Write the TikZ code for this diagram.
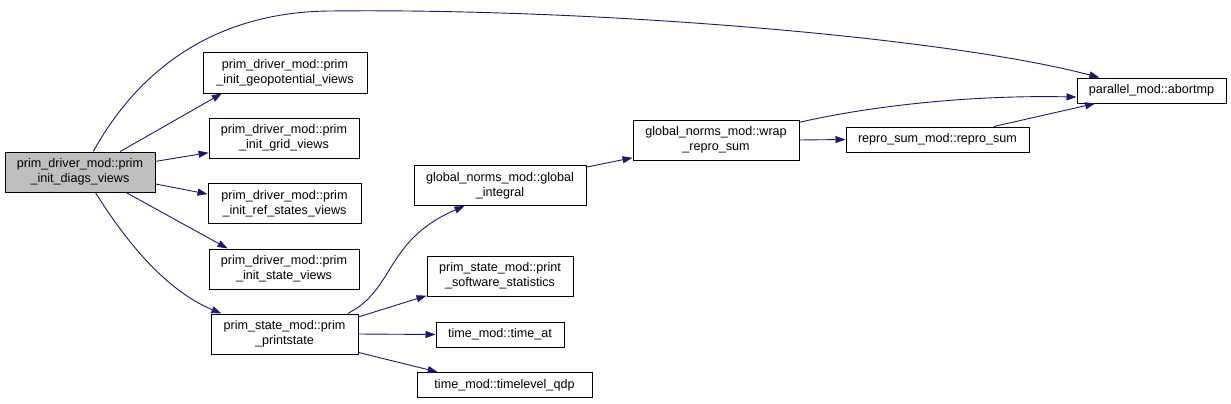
\documentclass[tikz,border=0pt]{standalone}
\usepackage{fontspec}
\setmainfont{Liberation Sans}
\usepackage{tikz}
\usetikzlibrary{arrows.meta}
\definecolor{edgeblue}{RGB}{25,25,112}
\definecolor{rootgray}{RGB}{191,191,191}

\begin{document}
\begin{tikzpicture}[
  x=1pt, y=-1pt,
  fn/.style={rectangle, draw=black, line width=1pt, fill=white, inner sep=0pt,
    align=center, font=\fontsize{12.6}{15}\selectfont, minimum height=40pt},
  fn1/.style={fn, minimum height=25pt},
  cur/.style={fn, fill=rootgray},
  call/.style={-{Triangle[length=10pt,width=7pt]}, edgeblue, line width=0.9pt}
]
  \useasboundingbox (0,0) rectangle (1231,404);
  % ---------------- nodes (pixel coordinates of the box centres) ----------------
  \node[cur, minimum width=150pt] (diags) at (80,172) {prim\_driver\_mod::prim\\\_init\_diags\_views};
  \node[fn, minimum width=164pt] (geopot) at (285,73) {prim\_driver\_mod::prim\\\_init\_geopotential\_views};
  \node[fn, minimum width=150pt] (grid) at (284,138) {prim\_driver\_mod::prim\\\_init\_grid\_views};
  \node[fn, minimum width=153pt] (refst) at (284.5,203.5) {prim\_driver\_mod::prim\\\_init\_ref\_states\_views};
  \node[fn, minimum width=150pt] (statev) at (284,269) {prim\_driver\_mod::prim\\\_init\_state\_views};
  \node[fn, minimum width=147pt] (prnt) at (284.5,334) {prim\_state\_mod::prim\\\_printstate};
  \node[fn, minimum width=172pt] (glint) at (500,185.5) {global\_norms\_mod::global\\\_integral};
  \node[fn, minimum width=146pt] (swstat) at (500,276) {prim\_state\_mod::print\\\_software\_statistics};
  \node[fn1, minimum width=128pt] (tat) at (500,334.5) {time\_mod::time\_at};
  \node[fn1, minimum width=175pt] (tqdp) at (504.5,385) {time\_mod::timelevel\_qdp};
  \node[fn, minimum width=166pt] (wrap) at (716,140) {global\_norms\_mod::wrap\\\_repro\_sum};
  \node[fn1, minimum width=183pt] (repro) at (937.5,139.5) {repro\_sum\_mod::repro\_sum};
  \node[fn1, minimum width=149pt] (abort) at (1151.5,90.5) {parallel\_mod::abortmp};
  % ---------------- edges ----------------
  \draw[call] (diags.57) .. controls (130,85) and (200,12) .. (330,11)
    .. controls (600,8) and (950,38) .. (abort.166);
  \draw[call] (diags.27) -- (geopot.198);
  \draw[call] (diags.8) -- (grid.191);
  \draw[call] (diags.351) -- (refst.173);
  \draw[call] (diags.336) -- (statev.160);
  \draw[call] (diags.307) .. controls (125,240) and (165,290) .. (prnt.162);
  \draw[call] (prnt.18) .. controls (395,290) and (385,240) .. (glint.210);
  \draw[call] (prnt.13) -- (swstat.195);
  \draw[call] (prnt.east) -- (tat.west);
  \draw[call] (prnt.346) -- (tqdp.169);
  \draw[call] (glint.12) -- (wrap.192);
  \draw[call] (wrap.east) -- (repro.west);
  \draw[call] (wrap.12) .. controls (880,104) and (980,95) .. (abort.185);
  \draw[call] (repro.13) -- (abort.193);
\end{tikzpicture}
\end{document}
